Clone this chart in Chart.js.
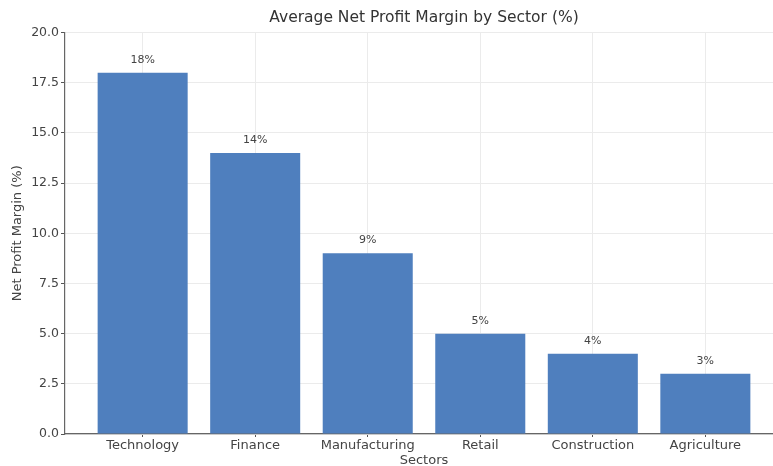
<!DOCTYPE html>
<html>
<head>
<meta charset="utf-8">
<script src="https://cdn.jsdelivr.net/npm/chart.js@4.4.1/dist/chart.umd.min.js"></script>
<style>
  html, body { margin: 0; padding: 0; background: #fff; overflow: hidden; }
  #wrap { width: 790px; height: 466px; }
</style>
</head>
<body>
<div id="wrap"><canvas id="chart"></canvas></div>
<script>
// sectors and their average net profit margin (%)
const sectors = ["Technology", "Finance", "Manufacturing", "Retail", "Construction", "Agriculture"];
const margins = [18, 14, 9, 5, 4, 3];
const yTicks = [0, 2.5, 5, 7.5, 10, 12.5, 15, 17.5, 20];

const barColor = "#4f7fbe";
const textColor = "#444";
const gridColor = "#ebebeb";

// labels like "18%" above each bar
const valueLabels = {
  id: "valueLabels",
  afterDatasetsDraw(chart) {
    const { ctx } = chart;
    const meta = chart.getDatasetMeta(0);
    ctx.save();
    ctx.font = "11px 'DejaVu Sans'";
    ctx.fillStyle = textColor;
    ctx.textAlign = "center";
    ctx.textBaseline = "middle";
    meta.data.forEach((bar, i) => {
      ctx.fillText(`${margins[i]}%`, bar.x, bar.y - 13);
    });
    ctx.restore();
  }
};

const ctx = document.getElementById("chart").getContext("2d");
new Chart(ctx, {
  type: "bar",
  data: {
    datasets: [{
      data: sectors.map((s, i) => ({ x: i, y: margins[i] })),
      backgroundColor: barColor,
      borderWidth: 0,
      barPercentage: 0.8,
      categoryPercentage: 1
    }]
  },
  options: {
    responsive: true,
    maintainAspectRatio: false,
    animation: false,
    layout: { padding: { left: 0, right: 7, top: 0, bottom: 0 } },
    plugins: {
      legend: { display: false },
      tooltip: { enabled: false },
      title: {
        display: true,
        text: "Average Net Profit Margin by Sector (%)",
        fullSize: false,
        color: "#333",
        font: { family: "DejaVu Sans", size: 15.5, weight: "normal" },
        padding: { top: 9, bottom: 5 }
      }
    },
    scales: {
      x: {
        type: "linear",
        offset: false,
        min: -0.69,
        max: 5.69,
        afterBuildTicks: scale => {
          scale.ticks = sectors.map((_, i) => ({ value: i }));
        },
        afterFit: scale => { scale.height = 32; },
        ticks: {
          color: textColor,
          font: { family: "DejaVu Sans", size: 13 },
          padding: 1,
          maxRotation: 0,
          callback: v => sectors[v]
        },
        grid: { offset: false, color: gridColor, tickColor: "#555", tickLength: 3 },
        border: { color: "#666", width: 1.2 },
        title: {
          display: true,
          text: "Sectors",
          color: textColor,
          font: { family: "DejaVu Sans", size: 13 },
          padding: { top: 0, bottom: -2 }
        }
      },
      y: {
        min: 0,
        max: 20,
        afterBuildTicks: scale => {
          scale.ticks = yTicks.map(v => ({ value: v }));
        },
        afterFit: scale => { scale.width = 65; },
        ticks: {
          color: textColor,
          font: { family: "DejaVu Sans", size: 12.5 },
          padding: 2,
          callback: v => v.toFixed(1)
        },
        grid: { color: gridColor, tickColor: "#555", tickLength: 4 },
        border: { color: "#666", width: 1.2 },
        title: {
          display: true,
          text: "Net Profit Margin (%)",
          color: textColor,
          font: { family: "DejaVu Sans", size: 13 },
          padding: { top: 10, bottom: 0 }
        }
      }
    }
  },
  plugins: [valueLabels]
});
</script>
</body>
</html>
